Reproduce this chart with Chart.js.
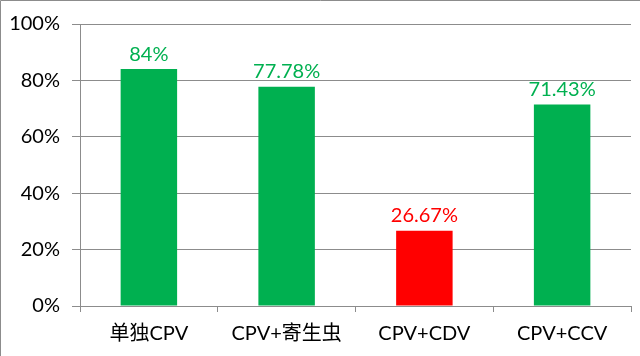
<!DOCTYPE html>
<html>
<head>
<meta charset="utf-8">
<script src="https://cdn.jsdelivr.net/npm/chart.js@4/dist/chart.umd.min.js"></script>
<style>
  html, body { margin: 0; padding: 0; background: #fff; }
  #wrap { width: 640px; height: 356px; }
</style>
</head>
<body>
<div id="wrap"><canvas id="rateChart" width="640" height="356"></canvas></div>
<script>
var categories = ['单独CPV', 'CPV+寄生虫', 'CPV+CDV', 'CPV+CCV'];
var rates = [84, 77.78, 26.67, 71.43];
var rateLabels = ['84%', '77.78%', '26.67%', '71.43%'];
var barColors = ['#00B050', '#00B050', '#FF0000', '#00B050'];
var yTicks = [0, 20, 40, 60, 80, 100];

var FONT = "Lato, 'Noto Sans CJK SC', sans-serif";

// draws the value above each bar
var valueLabels = {
  id: 'valueLabels',
  afterDatasetsDraw: function(chart) {
    var ctx = chart.ctx;
    var meta = chart.getDatasetMeta(0);
    ctx.save();
    ctx.font = '20px ' + FONT;
    ctx.textAlign = 'center';
    ctx.textBaseline = 'bottom';
    meta.data.forEach(function(bar, i) {
      ctx.fillStyle = barColors[i];
      ctx.fillText(rateLabels[i], bar.x, bar.y - 5);
    });
    ctx.restore();
  }
};

// thin frame along top and left edge
var frame = {
  id: 'frame',
  afterDraw: function(chart) {
    var ctx = chart.ctx;
    ctx.save();
    ctx.strokeStyle = '#8c8c8c';
    ctx.lineWidth = 1;
    ctx.beginPath();
    ctx.moveTo(0.5, 356);
    ctx.lineTo(0.5, 0.5);
    ctx.lineTo(640, 0.5);
    ctx.stroke();
    ctx.restore();
  }
};

var ctx = document.getElementById('rateChart').getContext('2d');
new Chart(ctx, {
  type: 'bar',
  data: {
    labels: categories,
    datasets: [{
      data: rates,
      backgroundColor: barColors,
      borderWidth: 0,
      categoryPercentage: 1,
      barPercentage: 0.41
    }]
  },
  options: {
    responsive: false,
    animation: false,
    layout: { padding: { top: 19, right: 9, left: 0, bottom: 0 } },
    plugins: {
      legend: { display: false },
      tooltip: { enabled: false }
    },
    scales: {
      y: {
        min: 0,
        max: 100,
        afterFit: function(scale) { scale.width = 80; },
        afterBuildTicks: function(scale) {
          scale.ticks = yTicks.map(function(v) { return { value: v }; });
        },
        ticks: {
          color: '#000',
          font: { size: 20, family: FONT },
          padding: 12,
          callback: function(v) { return v + '%'; }
        },
        grid: { color: '#8c8c8c', tickLength: 8, lineWidth: 1 },
        border: { color: '#8c8c8c' }
      },
      x: {
        afterFit: function(scale) { scale.height = 50; },
        ticks: {
          color: '#000',
          font: { size: 20, family: FONT },
          padding: 10,
          maxRotation: 0
        },
        grid: { offset: true, drawOnChartArea: false, color: '#8c8c8c', tickLength: 6 },
        border: { color: '#8c8c8c' }
      }
    }
  },
  plugins: [valueLabels, frame]
});
</script>
</body>
</html>
